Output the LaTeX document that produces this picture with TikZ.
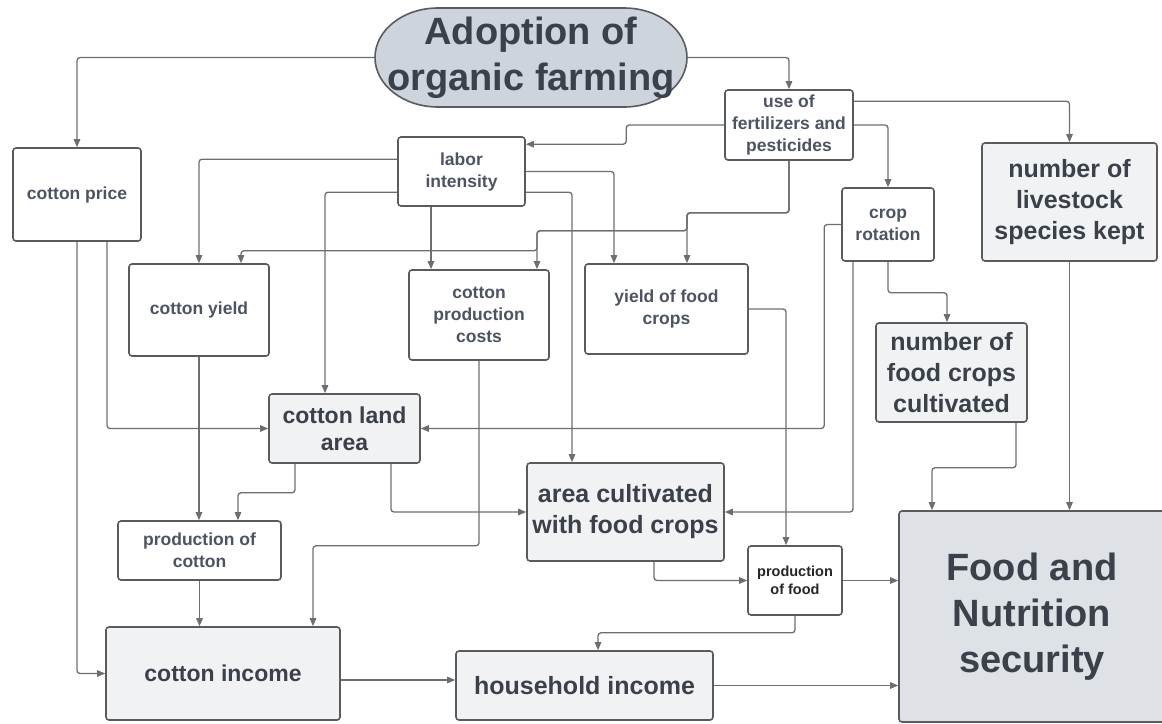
\documentclass[tikz,border=0pt]{standalone}
\usepackage{fontspec}
\setmainfont{Liberation Sans}
\usetikzlibrary{arrows.meta,calc}
\definecolor{linegray}{HTML}{6E6E6E}
\definecolor{boxline}{HTML}{585B60}
\definecolor{lightfill}{HTML}{F1F2F4}
\definecolor{adoptfill}{HTML}{CED4DC}
\definecolor{fnsfill}{HTML}{DEE1E6}
\definecolor{darktext}{HTML}{3A414B}
\definecolor{smalltext}{HTML}{4C5361}
\tikzset{
    box/.style={draw=boxline,line width=1.6pt,rounded corners=3pt,align=center,inner sep=0pt,
        text=smalltext,font=\fontsize{17.5}{22}\selectfont\bfseries},
    bigbox/.style={box,fill=lightfill,text=darktext,font=\fontsize{25}{31}\selectfont\bfseries},
    conn/.style={draw=linegray,line width=1.3pt,rounded corners=3pt,-{Triangle[length=8pt,width=6.5pt]}}
}
\begin{document}
\begin{tikzpicture}[x=1pt,y=-1pt]
        \useasboundingbox (0,0) rectangle (1162,723);
        \draw[draw=boxline,line width=1.6pt,fill=adoptfill] (438,8) -- (624,8)
            arc[start angle=90,end angle=-90,x radius=63pt,y radius=49.5pt] -- (438,107)
            arc[start angle=270,end angle=90,x radius=63pt,y radius=49.5pt] -- cycle;
        \node[align=center,text=darktext,font=\fontsize{38}{46}\selectfont\bfseries,
            minimum width=312pt,minimum height=99pt,inner sep=0pt] (adopt) at (531,57.5) {Adoption of\\organic farming};
        \node[box,minimum width=128pt,minimum height=70pt] (fert) at (789,125) {use of\\fertilizers and\\pesticides};
        \node[box,minimum width=127pt,minimum height=69pt] (labor) at (461.5,171.5) {labor\\intensity};
        \node[box,minimum width=128pt,minimum height=93pt] (price) at (77,194.5) {cotton price};
        \node[box,minimum width=92pt,minimum height=73pt] (rot) at (888,224.5) {crop\\rotation};
        \node[bigbox,minimum width=175pt,minimum height=118pt] (stock) at (1069.5,202) {number of\\livestock\\species kept};
        \node[box,minimum width=140pt,minimum height=92pt] (yieldc) at (199,310) {cotton yield};
        \node[box,minimum width=140pt,minimum height=90pt] (costs) at (479,315) {cotton\\production\\costs};
        \node[box,minimum width=163pt,minimum height=90pt] (yieldf) at (666.5,309) {yield of food\\crops};
        \node[bigbox,minimum width=151pt,minimum height=99pt] (nfood) at (951.5,372.5) {number of\\food crops\\cultivated};
        \node[bigbox,minimum width=151pt,minimum height=69pt,font=\fontsize{23}{27}\selectfont\bfseries] (land) at (344.5,428.5) {cotton land\\area};
        \node[bigbox,minimum width=197pt,minimum height=98pt] (area) at (625.5,512) {area cultivated\\with food crops};
        \node[box,minimum width=163pt,minimum height=59pt] (prodc) at (199.5,550.5) {production of\\cotton};
        \node[box,minimum width=94pt,minimum height=69pt,text=black!85,font=\fontsize{14.5}{18}\selectfont\bfseries] (prodf) at (795,580.5) {production\\of food};
        \node[box,fill=fnsfill,text=darktext,minimum width=266pt,minimum height=211pt,font=\fontsize{38}{46}\selectfont\bfseries] (fns) at (1032,616.5) {Food and\\Nutrition\\security};
        \node[bigbox,minimum width=234pt,minimum height=93pt,font=\fontsize{23}{27}\selectfont\bfseries] (cincome) at (223,673.5) {cotton income};
        \node[bigbox,minimum width=257pt,minimum height=69pt] (hincome) at (584.5,685.5) {household income};
        \draw[conn] (adopt.west) -| (price.north);
        \draw[conn] (adopt.east) -| (fert.north);
        \draw[conn] ([yshift=-12pt]fert.north east) -| (stock.north);
        \draw[conn] (fert.west) -- ++(-98,0) |- ([yshift=-8pt]labor.north east);
        \draw[conn] (fert.east) -| (rot.north);
        \draw[conn] (fert.south) -- ++(0,52) -| ([xshift=20.5pt]yieldf.north);
        \draw[conn] (fert.south) -- ++(0,52) -- ++(-102,0) -- ++(0,18) -| ([xshift=58pt]costs.north);
        \draw[conn] (fert.south) -- ++(0,52) -- ++(-102,0) -- ++(0,18) -- ++(-150,0) -- ++(0,20) -| ([xshift=42pt]yieldc.north);
        \draw[conn] ([yshift=-23pt]labor.north west) -| (yieldc.north);
        \draw[conn] ([yshift=-56pt]labor.north west) -| ([xshift=-19.5pt]land.north);
        \draw[conn] ([xshift=-30.5pt]labor.south) -- ([xshift=-48pt]costs.north);
        \draw[conn] (labor.east) -| ([xshift=-52.5pt]yieldf.north);
        \draw[conn] ([yshift=-56pt]labor.north east) -| ([xshift=-53.5pt]area.north);
        \draw[conn] (price.south) |- (cincome.west);
        \draw[conn] ([xshift=30pt]price.south) |- (land.west);
        \draw[conn] (yieldc.south) -- (yieldc.south |- prodc.north);
        \draw[conn] ([xshift=-49.5pt]land.south) -- ++(0,29) -| ([xshift=38.5pt]prodc.north);
        \draw[conn] ([xshift=46.5pt]land.south) |- (area.west);
        \draw[conn] (costs.south) -- ++(0,185) -| ([xshift=90pt]cincome.north);
        \draw[conn] (rot.west) -- ++(-17,0) |- (land.east);
        \draw[conn] ([xshift=-35pt]rot.south) |- (area.east);
        \draw[conn] (rot.south) -- ++(0,31) -| ([xshift=-4.5pt]nfood.north);
        \draw[conn] (yieldf.east) -| ([xshift=-9pt]prodf.north);
        \draw[conn] ([xshift=64.5pt]nfood.south) -- ++(0,45) -| ([xshift=-100pt]fns.north);
        \draw[conn] (stock.south) -- (stock.south |- fns.north);
        \draw[conn] ([xshift=28.5pt]area.south) |- (prodf.west);
        \draw[conn] (prodf.east) -- (prodf.east -| fns.west);
        \draw[conn] (prodf.south) -- ++(0,17) -| ([xshift=13.5pt]hincome.north);
        \draw[conn] (prodc.south) -- (prodc.south |- cincome.north);
        \draw[conn] ([yshift=-6.5pt]cincome.east) -- ([yshift=-6.5pt]cincome.east -| hincome.west);
        \draw[conn] (hincome.east) -- (hincome.east -| fns.west);
    \end{tikzpicture}
\end{document}
